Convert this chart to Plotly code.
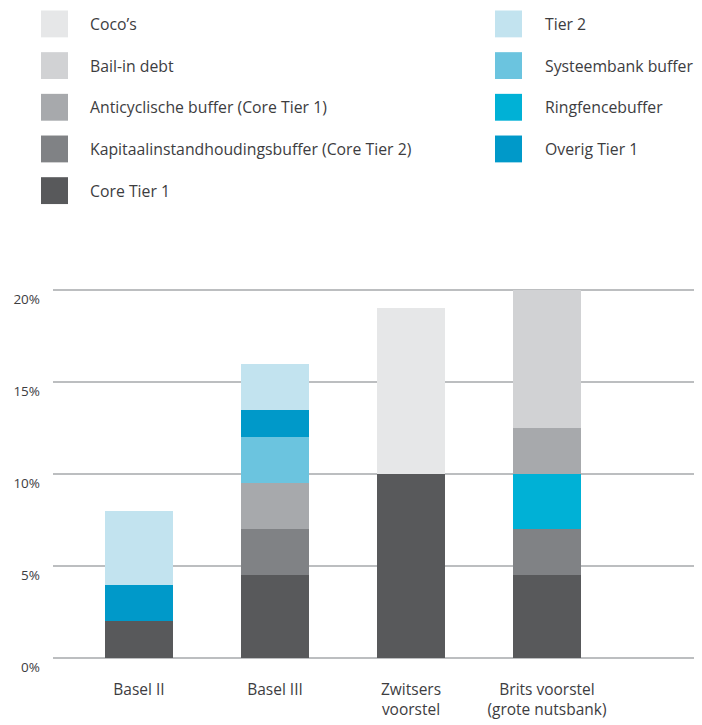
import plotly.graph_objects as go

categories = ["Basel II", "Basel III", "Zwitsers<br>voorstel", "Brits voorstel<br>(grote nutsbank)"]

# stacked from bottom to top
core_tier1 = [2.0, 4.5, 10.0, 4.5]
kapitaal = [0, 2.5, 0, 2.5]
ringfence = [0, 0, 0, 3.0]
anticyclisch = [0, 2.5, 0, 2.5]
systeembank = [0, 2.5, 0, 0]
overig_tier1 = [2.0, 1.5, 0, 0]
tier2 = [4.0, 2.5, 0, 0]
cocos = [0, 0, 9.0, 0]
bail_in = [0, 0, 0, 7.5]

y_ticks = [0, 5, 10, 15, 20]
y_ticktext = ["0%", "5%", "10%", "15%", "20%"]

series = [
    ("Core Tier 1", core_tier1, "#58595b"),
    ("Kapitaalinstandhoudingsbuffer (Core Tier 2)", kapitaal, "#808285"),
    ("Ringfencebuffer", ringfence, "#00b1d6"),
    ("Anticyclische buffer (Core Tier 1)", anticyclisch, "#a7a9ac"),
    ("Systeembank buffer", systeembank, "#6bc4df"),
    ("Overig Tier 1", overig_tier1, "#0099c9"),
    ("Tier 2", tier2, "#c2e3ef"),
    ("Coco’s", cocos, "#e6e7e8"),
    ("Bail-in debt", bail_in, "#d1d2d4"),
]
colors = {name: c for name, _, c in series}

legend_left = ["Coco’s", "Bail-in debt", "Anticyclische buffer (Core Tier 1)",
               "Kapitaalinstandhoudingsbuffer (Core Tier 2)", "Core Tier 1"]
legend_right = ["Tier 2", "Systeembank buffer", "Ringfencebuffer", "Overig Tier 1"]

FONT = "Open Sans"
TEXT = "#3d3d3f"

fig = go.Figure()
x = list(range(len(categories)))
for name, vals, color in series:
    fig.add_trace(go.Bar(
        x=x, y=vals, name=name, width=0.5,
        marker=dict(color=color, line=dict(width=0)),
        showlegend=False,
    ))

# page offset (body margin) and plot area in page pixels
OFF = 8
L, R, T, B = 53, 697, 288, 662
W, H = 702 - OFF, 725 - OFF


def px(xp):
    return (xp - L) / (R - L)


def py(yp):
    return (B - yp) / (B - T)


shapes = []
annotations = []
for names, sq_x, txt_x in [(legend_left, 41, 90), (legend_right, 495, 545)]:
    for i, name in enumerate(names):
        yc = 22.5 + i * 41.9
        shapes.append(dict(type="rect", xref="paper", yref="paper",
                           x0=px(sq_x), x1=px(sq_x + 27), y0=py(yc + 13.5), y1=py(yc - 13.5),
                           fillcolor=colors[name], line=dict(width=0)))
        annotations.append(dict(xref="paper", yref="paper", x=px(txt_x), y=py(yc),
                                text=name, showarrow=False, xanchor="left", yanchor="middle",
                                xshift=-2, font=dict(family=FONT, size=15.8, color=TEXT)))

fig.update_layout(
    barmode="stack",
    width=W, height=H,
    plot_bgcolor="white", paper_bgcolor="white",
    margin=dict(l=L - OFF, r=W + OFF - R, t=T - OFF, b=H + OFF - B, pad=0),
    font=dict(family=FONT, size=15, color=TEXT),
    shapes=shapes,
    annotations=annotations,
    xaxis=dict(
        range=[(L - 139) / 136, (R - 139) / 136],
        tickvals=x, ticktext=categories,
        showgrid=False, zeroline=False, showline=False, ticks="",
        ticklabelstandoff=18,
        tickfont=dict(family=FONT, size=15.5, color=TEXT),
    ),
    yaxis=dict(
        range=[-0.1, 20.1],
        tickvals=y_ticks, ticktext=y_ticktext,
        showgrid=True, gridcolor="#bcbec0", gridwidth=2,
        zeroline=False, showline=False, ticks="",
        ticklabelposition="outside bottom",
        ticklabelstandoff=12,
        tickfont=dict(family=FONT, size=13.5, color=TEXT),
    ),
)

fig.write_html("out.html")
